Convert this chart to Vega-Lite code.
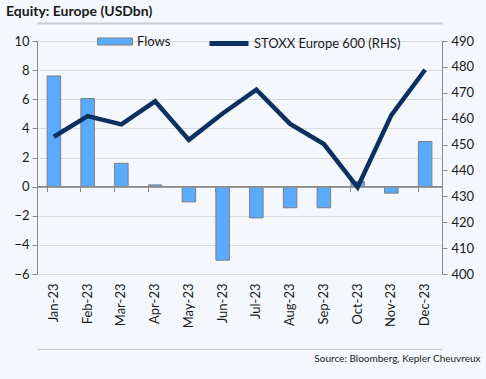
{
  "$schema": "https://vega.github.io/schema/vega-lite/v6.json",
  "width": 405,
  "height": 233,
  "autosize": {"type": "none"},
  "padding": {"left": 37, "top": 41, "right": 44, "bottom": 105},
  "background": "#F4F8FC",
  "title": {
    "text": "Equity: Europe (USDbn)",
    "anchor": "start",
    "frame": "group",
    "dx": -31,
    "offset": 3,
    "font": "Lato",
    "fontSize": 14,
    "fontWeight": "bold",
    "color": "#1a1a1a"
  },
  "config": {
    "view": {"stroke": null},
    "font": "Lato",
    "axis": {
      "labelFont": "Lato",
      "labelFontSize": 13,
      "labelColor": "#1a1a1a",
      "domainColor": "#8c8c8c",
      "tickColor": "#8c8c8c",
      "gridColor": "#d9d9d9"
    }
  },
  "data": {
    "values": [
      {"month": "Jan-23", "flows": 7.6, "stoxx": 453},
      {"month": "Feb-23", "flows": 6.05, "stoxx": 461},
      {"month": "Mar-23", "flows": 1.6, "stoxx": 457.8},
      {"month": "Apr-23", "flows": 0.12, "stoxx": 466.7},
      {"month": "May-23", "flows": -1.05, "stoxx": 451.8},
      {"month": "Jun-23", "flows": -5.05, "stoxx": 462},
      {"month": "Jul-23", "flows": -2.15, "stoxx": 471.2},
      {"month": "Aug-23", "flows": -1.45, "stoxx": 458},
      {"month": "Sep-23", "flows": -1.45, "stoxx": 450.2},
      {"month": "Oct-23", "flows": 0.35, "stoxx": 433.5},
      {"month": "Nov-23", "flows": -0.45, "stoxx": 461.4},
      {"month": "Dec-23", "flows": 3.1, "stoxx": 478.9}
    ]
  },
  "layer": [
    {
      "mark": {"type": "bar", "stroke": "#7f7f7f", "strokeWidth": 1},
      "encoding": {
        "x": {
          "field": "month",
          "type": "ordinal",
          "sort": null,
          "scale": {"paddingInner": 0.6, "paddingOuter": 0.3},
          "axis": {
            "orient": "bottom",
            "labelAngle": -90,
            "labelPadding": 9,
            "domain": false,
            "ticks": false,
            "title": "Source: Bloomberg, Kepler Cheuvreux",
            "titleFont": "Lato",
            "titleFontSize": 10,
            "titleFontWeight": "normal",
            "titleColor": "#1a1a1a",
            "titleAnchor": "end",
            "titleAlign": "right",
            "titleBaseline": "middle",
            "titleX": 443,
            "titleY": 84
          }
        },
        "y": {
          "field": "flows",
          "type": "quantitative",
          "scale": {"domain": [-6, 10], "nice": false},
          "axis": {
            "orient": "left",
            "title": null,
            "values": [-6, -4, -2, 0, 2, 4, 6, 8, 10],
            "tickSize": 5,
            "labelPadding": 3,
            "grid": true
          }
        },
        "fill": {
          "datum": "Flows",
          "scale": {"domain": ["Flows"], "range": ["#5AABFF"]},
          "legend": {
            "orient": "none",
            "legendX": 60,
            "legendY": -17.5,
            "title": null,
            "padding": 0,
            "symbolType": "M-1,-0.2H1V0.2H-1Z",
            "symbolSize": 1225,
            "symbolStrokeColor": "#7f7f7f",
            "symbolStrokeWidth": 1,
            "labelFontSize": 13,
            "labelColor": "#1a1a1a",
            "labelOffset": 4
          }
        }
      }
    },
    {
      "mark": {"type": "rule", "color": "#8c8c8c", "strokeWidth": 1},
      "encoding": {
        "y": {"datum": 0, "type": "quantitative", "scale": {"domain": [-6, 10], "nice": false}, "axis": null}
      }
    },
    {
      "mark": {"type": "line", "strokeWidth": 4.5},
      "encoding": {
        "x": {
          "field": "month",
          "type": "ordinal",
          "sort": null,
          "axis": {
            "orient": "bottom",
            "offset": -87.4,
            "labels": false,
            "domain": false,
            "ticks": true,
            "tickSize": 5,
            "bandPosition": 0,
            "title": null
          }
        },
        "y": {
          "field": "stoxx",
          "type": "quantitative",
          "scale": {"domain": [400, 490], "nice": false},
          "axis": {
            "orient": "right",
            "title": null,
            "values": [400, 410, 420, 430, 440, 450, 460, 470, 480, 490],
            "tickSize": 5,
            "labelPadding": 4,
            "grid": false
          }
        },
        "stroke": {
          "datum": "STOXX Europe 600 (RHS)",
          "scale": {"domain": ["STOXX Europe 600 (RHS)"], "range": ["#0A3161"]},
          "legend": {
            "orient": "none",
            "legendX": 170,
            "legendY": -19.5,
            "title": null,
            "padding": 0,
            "symbolType": "stroke",
            "symbolSize": 1521,
            "symbolStrokeWidth": 5,
            "labelFontSize": 13,
            "labelColor": "#1a1a1a",
            "labelOffset": 3
          }
        }
      }
    },
    {
      "mark": {"type": "tick", "opacity": 0},
      "encoding": {
        "x": {
          "field": "month",
          "type": "ordinal",
          "sort": null,
          "axis": {
            "orient": "top",
            "offset": 18,
            "labels": false,
            "ticks": false,
            "domain": true,
            "domainColor": "#c8ccd0",
            "domainWidth": 2,
            "title": null
          }
        }
      }
    },
    {
      "mark": {"type": "tick", "opacity": 0},
      "encoding": {
        "x": {
          "field": "month",
          "type": "ordinal",
          "sort": null,
          "axis": {
            "orient": "bottom",
            "offset": 75,
            "labels": false,
            "ticks": false,
            "domain": true,
            "domainColor": "#c8ccd0",
            "domainWidth": 1,
            "title": null
          }
        }
      }
    }
  ],
  "resolve": {
    "scale": {"y": "independent", "fill": "independent", "stroke": "independent"},
    "axis": {"x": "independent", "y": "independent"}
  }
}
